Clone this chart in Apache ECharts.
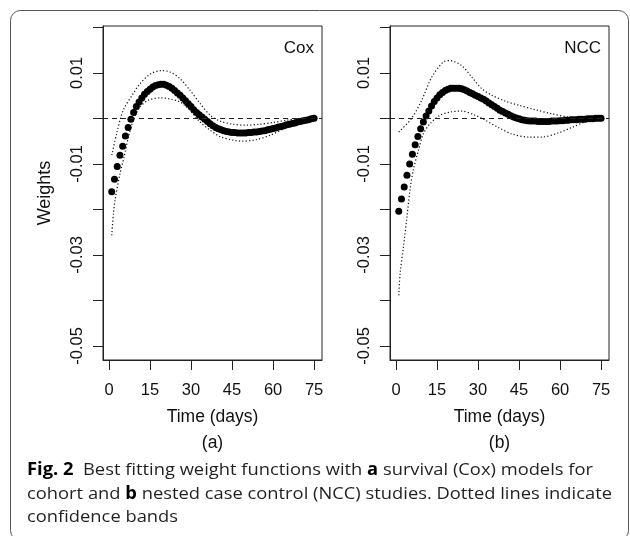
<!DOCTYPE html>
<html>
<head>
<meta charset="utf-8">
<script src="https://cdn.jsdelivr.net/npm/echarts@6/dist/echarts.min.js"></script>
<style>
html,body{margin:0;padding:0;background:#fff}
#chart{width:630px;height:536px}
</style>
</head>
<body>
<div id="chart"></div>
<script>
/* data */
var days = [1,2,3,4,5,6,7,8,9,10,11,12,13,14,15,16,17,18,19,20,21,22,23,24,25,
    26,27,28,29,30,31,32,33,34,35,36,37,38,39,40,41,42,43,44,45,46,47,48,49,50,
    51,52,53,54,55,56,57,58,59,60,61,62,63,64,65,66,67,68,69,70,71,72,73,74,75];

var coxEst = [-0.0161,-0.0134,-0.0106,-0.0081,-0.0061,-0.0039,-0.0020,-0.0002,0.0013,0.0026,
    0.0036,0.0045,0.0053,0.0059,0.0064,0.0069,0.0072,0.0074,0.0075,0.0075,
    0.0073,0.0070,0.0066,0.0061,0.0056,0.0051,0.0045,0.0039,0.0032,0.0026,
    0.0019,0.0013,0.0008,0.0003,-0.0002,-0.0007,-0.0012,-0.0016,-0.0020,-0.0023,
    -0.0025,-0.0027,-0.0029,-0.0030,-0.0031,-0.0031,-0.0032,-0.0032,-0.0032,-0.0032,
    -0.0031,-0.0031,-0.0030,-0.0030,-0.0029,-0.0028,-0.0027,-0.0025,-0.0024,-0.0022,
    -0.0021,-0.0019,-0.0018,-0.0016,-0.0014,-0.0013,-0.0011,-0.0010,-0.0008,-0.0007,
    -0.0005,-0.0004,-0.0003,-0.0001,0.0000];

var nccEst = [-0.0204,-0.0177,-0.0151,-0.0125,-0.0100,-0.0079,-0.0058,-0.0040,-0.0023,-0.0008,
    0.0005,0.0016,0.0027,0.0037,0.0045,0.0052,0.0057,0.0061,0.0064,0.0066,
    0.0066,0.0066,0.0066,0.0065,0.0063,0.0060,0.0057,0.0054,0.0051,0.0048,
    0.0045,0.0042,0.0038,0.0034,0.0030,0.0026,0.0022,0.0018,0.0015,0.0012,
    0.0009,0.0006,0.0003,0.0001,-0.0001,-0.0003,-0.0004,-0.0005,-0.0006,-0.0006,
    -0.0006,-0.0007,-0.0007,-0.0007,-0.0007,-0.0007,-0.0006,-0.0006,-0.0006,-0.0005,
    -0.0005,-0.0004,-0.0004,-0.0003,-0.0003,-0.0003,-0.0002,-0.0002,-0.0002,-0.0001,
    -0.0001,-0.0001,0.0000,0.0000,0.0000];

// confidence bands, [day, weight]
var coxUpper = [[1,-0.0081],[2.8,-0.0033],[5.2,0.0018],[8.9,0.0055],[11.3,0.0076],[15,0.0097],
    [19,0.0105],[22.3,0.0102],[26,0.0087],[29.6,0.0062],[33.3,0.0033],[37,0.0007],[40.6,-0.0006],
    [45.5,-0.0013],[50,-0.0015],[55,-0.0013],[60,-0.0009],[65,-0.0004],[70,0.0000],[75,0.0002]];
var coxLower = [[1,-0.0257],[1.6,-0.0210],[2.2,-0.0180],[4,-0.0122],[5.5,-0.0085],[7.1,-0.0041],
    [8.9,-0.0004],[11.3,0.0025],[14.4,0.0040],[19,0.0045],[22,0.0043],[26,0.0036],[29.6,0.0018],
    [33.3,-0.0008],[37,-0.0026],[40.6,-0.0040],[45.5,-0.0048],[48.8,-0.0050],[53.7,-0.0047],
    [59,-0.0037],[63.9,-0.0023],[70,-0.0008],[75,-0.0002]];
var nccUpper = [[1,-0.0030],[5.7,0.0000],[9.4,0.0040],[13.1,0.0091],[17.3,0.0124],[19.8,0.0127],
    [24,0.0116],[27.7,0.0091],[31.4,0.0065],[35,0.0051],[39.9,0.0038],[44.8,0.0029],[50.9,0.0019],
    [57,0.0010],[63,0.0003],[69,0.0001],[75,0.0002]];
var nccLower = [[1,-0.0389],[1.5,-0.0341],[2.7,-0.0283],[4,-0.0217],[5.1,-0.0158],[6.3,-0.0114],
    [8.2,-0.0070],[10,-0.0034],[12.4,-0.0012],[16.1,0.0007],[20,0.0014],[24,0.0016],[28.9,0.0007],
    [32.6,-0.0004],[37.4,-0.0020],[42.3,-0.0034],[48.4,-0.0041],[53.3,-0.0041],[59.4,-0.0032],
    [64.3,-0.0020],[69.2,-0.0008],[75,-0.0002]];

var xTicks = [0,15,30,45,60,75];
var yTicks = [-0.05,-0.04,-0.03,-0.02,-0.01,0,0.01,0.02];
var yLabels = [-0.05,-0.03,-0.01,0.01];
var panelNames = ['Cox','NCC'];
var panelTags = ['(a)','(b)'];

var captionLines = [
    [['b','Fig. 2'],['n','  Best fitting weight functions with '],['b','a'],['n',' survival (Cox) models for']],
    [['n','cohort and '],['b','b'],['n',' nested case control (NCC) studies. Dotted lines indicate']],
    [['n','confidence bands']]
];

/************************* helpers *******************************/
var plotFont = 'Liberation Sans, Arial, sans-serif';
var capFont = '"Open Sans", "Noto Sans", sans-serif';
var capSize = 17;

function pairs(xs, ys){
    var out = [];
    for (var i = 0; i < xs.length; i++) out.push([xs[i], ys[i]]);
    return out;
}

// squeeze caption to the width it has in the figure
var ctx = document.createElement('canvas').getContext('2d');
function lineWidth(line){
    var w = 0;
    line.forEach(function(seg){
        ctx.font = (seg[0] == 'b' ? '700 ' : '400 ') + capSize + 'px ' + capFont;
        w += ctx.measureText(seg[1]).width;
    });
    return w;
}
var capScale = 585 / lineWidth(captionLines[1]);

function richLine(line){
    return line.map(function(seg){ return '{' + seg[0] + '|' + seg[1] + '}'; }).join('');
}

var grids = [
    {left: 103, top: 26, width: 219, height: 334},
    {left: 390, top: 26, width: 219, height: 334}
];

var xAxes = [], yAxes = [], series = [];
grids.forEach(function(g, i){
    g.show = true;
    g.borderColor = '#222';
    g.borderWidth = 1;
    g.backgroundColor = 'transparent';

    xAxes.push({
        gridIndex: i, type: 'value', min: -2.2, max: 77.9,
        axisLine: {onZero: false, lineStyle: {color: '#222'}},
        axisTick: {length: 10, customValues: xTicks, lineStyle: {color: '#222'}},
        axisLabel: {customValues: xTicks, margin: 22, fontSize: 16.5, color: '#111', fontFamily: plotFont},
        splitLine: {show: false},
        name: 'Time (days)\n' + panelTags[i],
        nameLocation: 'middle', nameGap: 40,
        nameTextStyle: {fontSize: 17.5, color: '#111', fontFamily: plotFont, lineHeight: 26}
    });
    yAxes.push({
        gridIndex: i, type: 'value', min: -0.0531, max: 0.0203,
        axisLine: {onZero: false, lineStyle: {color: '#222'}},
        axisTick: {length: 10, customValues: yTicks, lineStyle: {color: '#222'}},
        axisLabel: {
            customValues: yLabels, rotate: 90, margin: 17, fontSize: 16.5, color: '#111', fontFamily: plotFont,
            formatter: function(v){ return v.toFixed(2); }
        },
        splitLine: {show: false},
        name: i == 0 ? 'Weights' : '',
        nameLocation: 'middle', nameGap: 49,
        nameTextStyle: {fontSize: 18, color: '#111', fontFamily: plotFont}
    });
});

var estList = [coxEst, nccEst];
var upperList = [coxUpper, nccUpper];
var lowerList = [coxLower, nccLower];

[0, 1].forEach(function(i){
    var band = {
        type: 'line', xAxisIndex: i, yAxisIndex: i, symbol: 'none', smooth: 0.3,
        silent: true, z: 2,
        lineStyle: {color: '#111', width: 1.2, type: [1.2, 2.2]}
    };
    series.push(Object.assign({}, band, {data: upperList[i]}));
    series.push(Object.assign({}, band, {data: lowerList[i]}));
    series.push({
        type: 'scatter', xAxisIndex: i, yAxisIndex: i, silent: true, z: 3,
        symbol: 'circle', symbolSize: 7,
        itemStyle: {color: '#000', opacity: 1},
        data: pairs(days, estList[i]),
        markLine: {
            silent: true, symbol: ['none', 'none'], label: {show: false},
            lineStyle: {color: '#222', width: 1, type: [5, 4]},
            data: [{yAxis: 0}]
        }
    });
});

var graphics = [{
    type: 'rect', silent: true,
    shape: {x: 10.5, y: 10.5, width: 618, height: 530, r: 10},
    style: {fill: 'none', stroke: '#555', lineWidth: 1}
}];
panelNames.forEach(function(t, i){
    graphics.push({
        type: 'text', silent: true,
        x: grids[i].left + grids[i].width - 8, y: 48,
        style: {text: t, fontSize: 17, fontFamily: plotFont, fill: '#111', align: 'right', verticalAlign: 'middle'}
    });
});
var capY = [470, 494, 517];
captionLines.forEach(function(line, i){
    graphics.push({
        type: 'text', silent: true,
        x: 27, y: capY[i], scaleX: capScale,
        style: {
            text: richLine(line), verticalAlign: 'middle', align: 'left',
            rich: {
                n: {fontSize: capSize, fontFamily: capFont, fontWeight: 400, fill: '#231f20'},
                b: {fontSize: capSize, fontFamily: capFont, fontWeight: 700, fill: '#000'}
            }
        }
    });
});

var option = {
    backgroundColor: '#fff',
    animation: false,
    grid: grids,
    xAxis: xAxes,
    yAxis: yAxes,
    series: series,
    graphic: graphics
};

var chart = echarts.init(document.getElementById('chart'));
chart.setOption(option);
</script>
</body>
</html>
